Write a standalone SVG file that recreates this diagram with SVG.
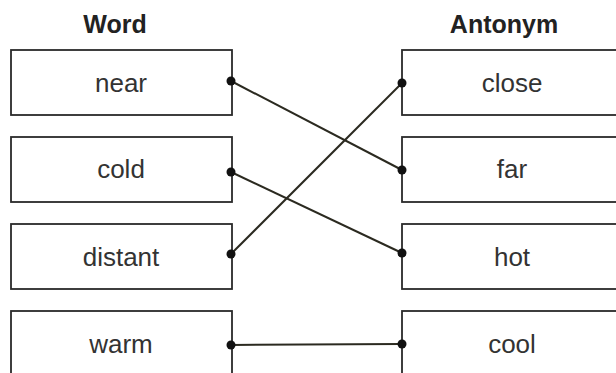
<svg xmlns="http://www.w3.org/2000/svg" width="616" height="373" viewBox="0 0 616 373">
<style>
.box{fill:#fff;stroke:#2a2a2a;stroke-width:1.8}
.t{font-family:"Liberation Sans",Arial,sans-serif;font-size:26px;fill:#333;text-anchor:middle}
.h{font-family:"Liberation Sans",Arial,sans-serif;font-size:25px;font-weight:bold;fill:#222;text-anchor:middle}
.c{stroke:#2b2a20;stroke-width:2;fill:none}
.d{fill:#111}
</style>
<rect width="616" height="373" fill="#fff"/>
<text class="h" x="115" y="33">Word</text>
<text class="h" x="504" y="33">Antonym</text>
<g id="w-near"><rect class="box" x="11" y="50" width="221" height="65"/><text class="t" x="121" y="92">near</text></g>
<g id="w-cold"><rect class="box" x="11" y="137" width="221" height="65"/><text class="t" x="121" y="178">cold</text></g>
<g id="w-distant"><rect class="box" x="11" y="224" width="221" height="65"/><text class="t" x="121" y="266">distant</text></g>
<g id="w-warm"><rect class="box" x="11" y="311" width="221" height="65"/><text class="t" x="121" y="353">warm</text></g>
<g id="a-close"><rect class="box" x="402" y="50" width="221" height="65"/><text class="t" x="512" y="92">close</text></g>
<g id="a-far"><rect class="box" x="402" y="137" width="221" height="65"/><text class="t" x="512" y="178">far</text></g>
<g id="a-hot"><rect class="box" x="402" y="224" width="221" height="65"/><text class="t" x="512" y="266">hot</text></g>
<g id="a-cool"><rect class="box" x="402" y="311" width="221" height="65"/><text class="t" x="512" y="353">cool</text></g>
<g id="connectors">
<line class="c" x1="231" y1="81" x2="402" y2="170"/>
<line class="c" x1="231" y1="172" x2="402" y2="253"/>
<line class="c" x1="231" y1="254" x2="402" y2="83"/>
<line class="c" x1="231" y1="345" x2="402" y2="344"/>
<circle class="d" cx="231" cy="81" r="4.5"/>
<circle class="d" cx="231" cy="172" r="4.5"/>
<circle class="d" cx="231" cy="254" r="4.5"/>
<circle class="d" cx="231" cy="345" r="4.5"/>
<circle class="d" cx="402" cy="83" r="4.5"/>
<circle class="d" cx="402" cy="170" r="4.5"/>
<circle class="d" cx="402" cy="253" r="4.5"/>
<circle class="d" cx="402" cy="344" r="4.5"/>
</g>
</svg>
